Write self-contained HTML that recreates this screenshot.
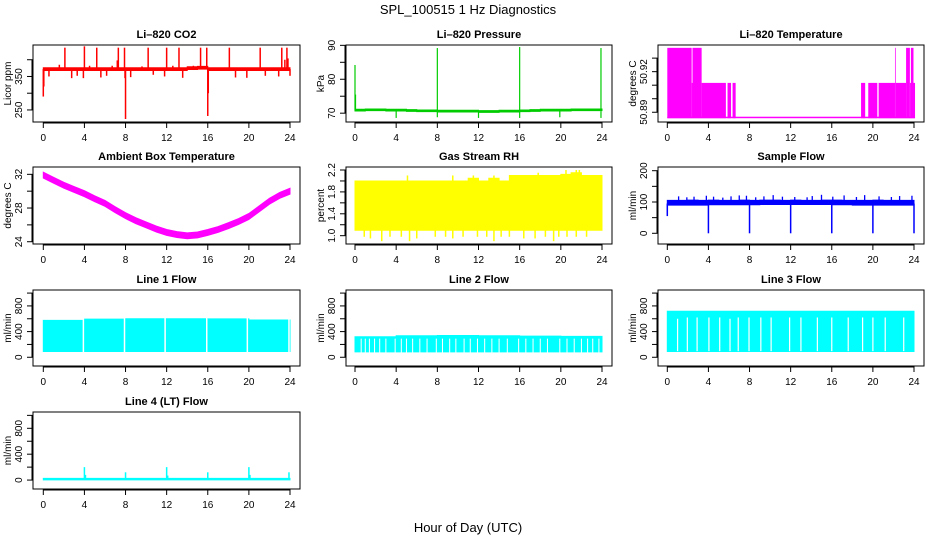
<!DOCTYPE html>
<html><head><meta charset="utf-8"><style>
html,body{margin:0;padding:0;background:#fff;}
svg{display:block;font-family:"Liberation Sans",Arial,sans-serif;}
</style></head><body>
<svg id="fig" width="936" height="540" viewBox="0 0 936 540" xmlns="http://www.w3.org/2000/svg">
<text x="468" y="14" text-anchor="middle" font-size="13">SPL_100515  1 Hz Diagnostics</text>
<text x="468" y="532" text-anchor="middle" font-size="13">Hour of Day (UTC)</text>
</svg>
<script>
// ---------- data ----------
const hours = [0,1,2,3,4,5,6,7,8,9,10,11,12,13,14,15,16,17,18,19,20,21,22,23,24];
const xTicks = [0,4,8,12,16,20,24];

const co2Upper = [376,376,376,376,376,376,376,376,376,376,376,376,376,376,379,380,376,376,376,376,376,376,376,376,376];
const co2Lower = [368,368,368,368,368,368,368,368,368,368,368,368,368,368,371,372,368,368,368,368,368,368,368,368,368];
const co2SpikeHours = [0,0.05,1.56,2.1,4.0,4.5,5.2,6.7,7.2,7.3,7.9,7.95,8.0,9.6,10.2,12.0,12.6,13.2,14.6,15.3,15.9,16.0,16.05,18.1,21.1,23.2,23.5,23.7,23.8,0.55,2.76,3.3,3.9,5.6,6.16,8.5,10.7,11.8,13.56,18.7,19.8,21.6,22.9,24.0];
const co2SpikeVals = [290,320,385,436,440,382,436,382,398,436,436,345,223,380,436,436,382,436,382,436,436,232,300,436,436,436,400,436,404,350,345,352,345,347,352,348,355,350,346,347,346,352,350,352];

const presBase = [70.9,71.0,71.0,70.9,70.9,70.8,70.7,70.7,70.6,70.6,70.6,70.6,70.5,70.5,70.6,70.6,70.7,70.8,70.9,70.9,70.9,71.0,71.0,71.0,71.1];
const presSpikeHours = [0,0.05,8.0,16.0,23.9];
const presSpikeVals = [84.2,75.5,89.2,89.5,89.2];
const presDipHours = [4,8,12,16,19.9,23.9];
const presDipVals = [68.6,68.8,68.6,68.6,68.8,68.6];

const tempSegStart = [0,2.37,2.45,3.34,5.86,6.35,18.85,19.55,20.56,22.15,22.22,23.23,23.6,23.7,23.95];
const tempSegEnd   = [2.37,2.45,3.34,5.7,6.2,6.65,19.25,20.43,22.15,22.22,23.23,23.6,23.7,23.95,24.1];
const tempSegLevel = [50.9376,50.9117,50.9376,50.9117,50.9117,50.9117,50.9117,50.9117,50.9117,50.9376,50.9117,50.9376,50.9117,50.9376,50.9117];
const tempBase = 50.8856;

const ambHours = [0,1,2,3,4,5,6,7,8,9,10,11,12,13,14,15,16,17,18,19,20,21,22,23,24];
const ambVals = [31.9,31.3,30.7,30.2,29.7,29.1,28.55,27.8,27.1,26.5,26.0,25.5,25.1,24.85,24.7,24.8,25.1,25.45,25.9,26.4,27.0,27.9,28.8,29.5,30.0];

const rhUpper = [2.0,2.0,2.0,2.0,2.0,2.0,2.0,2.0,2.0,2.0,2.0,2.05,2.0,2.05,2.0,2.1,2.1,2.1,2.1,2.1,2.12,2.15,2.1,2.1,2.1];
const rhLower = [1.1,1.1,1.1,1.1,1.1,1.1,1.1,1.1,1.1,1.1,1.1,1.1,1.1,1.1,1.1,1.1,1.1,1.1,1.1,1.1,1.1,1.1,1.1,1.1,1.3];
const rhDipHours = [0.9,1.5,2.6,3.4,4.5,5.3,6.0,7.8,8.8,9.5,10.5,11.9,12.8,13.5,14.2,15.0,16.4,17.5,18.5,19.3,19.8,20.6,21.5,22.5];
const rhDipVals = [0.98,0.95,0.9,0.98,0.98,0.9,0.95,0.98,0.98,0.95,0.98,0.98,0.98,0.9,0.98,0.98,0.95,0.95,0.98,0.9,0.98,0.98,0.98,0.98];
const rhSpikeHours = [5.1,9.5,11.5,13.5,17.8,20.5,21.5,21.8];
const rhSpikeVals = [2.1,2.1,2.1,2.1,2.15,2.2,2.2,2.2];

const sfUpper = [105,105,106,105,106,105,105,106,105,106,106,105,106,105,105,106,106,105,105,105,106,105,105,105,105];
const sfLower = [90,90,90,90,91,91,91,91,91,92,92,92,92,92,92,92,91,91,90,90,90,90,90,90,90];
const sfSpikeHours = [1.1,1.9,2.6,3.8,4.5,5.4,6.2,7.0,7.7,8.6,9.4,10.3,11.2,12.4,13.6,14.1,15.0,16.1,17.2,18.4,19.2,20.6,21.8,22.6,23.8];
const sfSpikeVals = [118,115,117,120,117,114,118,121,120,115,118,122,117,116,115,119,123,117,121,116,122,118,116,119,120];
const sfDropHours = [0,4,8,12,16,20,24];
const sfDropVals = [55,0,0,0,0,0,0];

const l1Upper = [575,575,575,575,595,595,595,595,600,600,600,600,600,600,600,600,598,598,598,598,580,580,580,580,480];
const l1Lower = [90,90,90,90,90,90,90,90,90,90,90,90,90,90,90,90,90,90,90,90,90,90,90,90,90];
const l1GapHours = [3.9,7.9,11.85,15.9,19.85,23.9];

const l2Upper = [320,320,320,320,335,335,335,335,340,340,340,340,335,335,335,335,330,330,330,330,325,325,325,325,260];
const l2Lower = [85,85,85,85,85,85,85,85,85,85,85,85,85,85,85,85,85,85,85,85,85,85,85,85,85];
const l2GapHours = [0.6,1.0,1.4,1.9,2.4,3.0,3.9,4.5,5.0,5.6,6.3,7.0,7.9,8.5,9.2,9.8,10.6,11.2,11.9,12.6,13.3,14.0,14.8,15.9,16.6,17.3,18.0,18.7,19.9,20.6,21.3,22.0,22.6,23.1,23.7];

const l3Upper = [716,716,716,716,716,716,716,716,716,716,716,716,716,716,716,716,716,716,716,716,716,716,716,716,620];
const l3Lower = [90,90,90,90,90,90,90,90,90,90,90,90,90,90,90,90,90,90,90,90,90,90,90,90,90];
const l3GapHours = [1.0,1.95,2.9,4.05,5.1,6.1,6.9,7.95,9.1,10.1,11.9,13.0,14.6,16.0,17.6,19.0,20.0,21.2,23.0];
const l3GapTops = [600,620,620,620,620,600,620,620,620,620,620,620,620,620,620,620,620,620,620];

const l4Base = 15;
const l4SpikeHours = [4.0,4.1,8.0,12.0,12.1,16.0,20.0,20.1,23.9];
const l4SpikeVals = [200,80,120,200,70,120,200,80,120];

// ---------- layout ----------
const svg = document.getElementById('fig');
const NS = 'http://www.w3.org/2000/svg';
const colBoxL = [33,346,658], colBoxR = [300,612,924];
const colX0 = [43.3,355,667.3], colX24 = [290,602,914];
const rowTop = [45,167,290,412], rowBot = [122,244,366,489];

function mk(tag, attrs, parent){
  const e = document.createElementNS(NS, tag);
  for (const k in attrs) e.setAttribute(k, attrs[k]);
  parent.appendChild(e);
  return e;
}

function panel(name, title, col, row, ymin, ymax, yTicks, yLabels, yTitle){
  const g = mk('g', {}, svg);
  
  
  const L = colBoxL[col], R = colBoxR[col], T = rowTop[row], B = rowBot[row];
  const p = {g, L, R, T, B};
  p.x = h => colX0[col] + (h/24)*(colX24[col]-colX0[col]);
  p.y = v => B - (v - ymin)/(ymax - ymin)*(B - T);
  const t = mk('text', {x:(L+R)/2, y:T-7, 'text-anchor':'middle', 'font-size':11, 'font-weight':'bold'}, g);
  t.textContent = title;
  
  
  // x axis
  const xa = mk('g', {}, g);
  
  
  mk('line', {x1:p.x(0), x2:p.x(24), y1:B+1, y2:B+1, stroke:'#000'}, xa);
  xTicks.forEach(h => {
    mk('line', {x1:p.x(h), x2:p.x(h), y1:B, y2:B+6, stroke:'#000'}, xa);
    const tl = mk('text', {x:p.x(h), y:B+19, 'text-anchor':'middle', 'font-size':10}, xa);
    tl.textContent = h;
    
    
  });
  // y axis
  const ya = mk('g', {}, g);
  
  
  mk('line', {x1:L-1, x2:L-1, y1:p.y(yTicks[0]), y2:p.y(yTicks[yTicks.length-1]), stroke:'#000'}, ya);
  yTicks.forEach((v,i) => {
    const yy = p.y(v);
    mk('line', {x1:L-6, x2:L, y1:yy, y2:yy, stroke:'#000'}, ya);
    if (yLabels[i] !== '') {
      const tl = mk('text', {x:0, y:0, 'text-anchor':'middle', 'font-size':10, transform:`translate(${L-11},${yy}) rotate(-90)`}, ya);
      tl.textContent = yLabels[i];
      
      
    }
  });
  const yt = mk('text', {x:0, y:0, 'text-anchor':'middle', 'font-size':10, transform:`translate(${L-22},${(T+B)/2}) rotate(-90)`}, g);
  yt.textContent = yTitle;
  
  
  const clip = 'clip' + col + row;
  const cp = mk('clipPath', {id:clip}, g);
  mk('rect', {x:L, y:T, width:R-L, height:B-T}, cp);
  p.d = mk('g', {'clip-path':`url(#${clip})`}, g);
  
  
  p.finish = () => {
    const bx = mk('rect', {x:L, y:T, width:R-L, height:B-T, fill:'none', stroke:'#000'}, g);
    
    
  };
  return p;
}

function band(p, hs, up, lo, color, step){
  let pts = [];
  if (step) {
    for (let i=0;i<hs.length-1;i++){ pts.push([p.x(hs[i]),p.y(up[i])]); pts.push([p.x(hs[i+1]),p.y(up[i])]); }
    for (let i=hs.length-2;i>=0;i--){ pts.push([p.x(hs[i+1]),p.y(lo[i])]); pts.push([p.x(hs[i]),p.y(lo[i])]); }
  } else {
    for (let i=0;i<hs.length;i++) pts.push([p.x(hs[i]),p.y(up[i])]);
    for (let i=hs.length-1;i>=0;i--) pts.push([p.x(hs[i]),p.y(lo[i])]);
  }
  const e = mk('polygon', {points:pts.map(a=>a.join(',')).join(' '), fill:color, stroke:color, 'stroke-width':1}, p.d);
  
  
}
function vlines(p, hs, from, to, color, w){
  hs.forEach((h,i) => {
    const a = Array.isArray(from) ? from[i] : from;
    const b = Array.isArray(to) ? to[i] : to;
    const e = mk('line', {x1:p.x(h), x2:p.x(h), y1:p.y(a), y2:p.y(b), stroke:color, 'stroke-width':w||1.3}, p.d);
    
    
  });
}
const RED='#ff0000', GRN='#00cc00', MAG='#ff00ff', YEL='#ffff00', BLU='#0000ff', CYN='#00ffff';

// CO2
let p = panel('co2-panel','Li\u2013820 CO2',0,0,214,444,[250,300,350,400],['250','','350',''],'Licor ppm');
band(p, hours, co2Upper, co2Lower, RED, true);
vlines(p, co2SpikeHours, 372, co2SpikeVals, RED, 1.5);
p.finish();

// Pressure
p = panel('pressure-panel','Li\u2013820 Pressure',1,0,67.4,90.1,[70,75,80,85,90],['70','','80','','90'],'kPa');
band(p, hours, presBase.map(v=>v+0.25), presBase.map(v=>v-0.25), GRN, true);
vlines(p, presSpikeHours, 70.8, presSpikeVals, GRN, 1.2);
vlines(p, presDipHours, 70.6, presDipVals, GRN, 1.2);
p.finish();

// Li-820 Temperature
p = panel('li820-temperature-panel','Li\u2013820 Temperature',2,0,50.8828,50.9397,[50.89,50.90,50.91,50.92,50.93],['50.89','','','50.92',''],'degrees C');
(function(){
  const e = mk('rect', {x:p.x(0), y:p.y(tempBase)-1.5, width:p.x(24.1)-p.x(0), height:1.5, fill:MAG}, p.d);
  
  
  tempSegStart.forEach((s,i) => {
    const r = mk('rect', {x:p.x(s), y:p.y(tempSegLevel[i]), width:p.x(tempSegEnd[i])-p.x(s), height:p.y(tempBase)-p.y(tempSegLevel[i]), fill:MAG}, p.d);
    
    
  });
})();
p.finish();

// Ambient
p = panel('ambient-temperature-panel','Ambient Box Temperature',0,1,23.73,32.87,[24,26,28,30,32],['24','','28','','32'],'degrees C');
band(p, ambHours, ambVals.map(v=>v+0.35), ambVals.map(v=>v-0.35), MAG, false);
p.finish();

// RH
p = panel('gas-stream-rh-panel','Gas Stream RH',1,1,0.848,2.255,[1.0,1.2,1.4,1.6,1.8,2.0,2.2],['1.0','','1.4','','1.8','','2.2'],'percent');
band(p, hours, rhUpper, rhLower, YEL, true);
vlines(p, rhDipHours, 1.2, rhDipVals, YEL, 1.5);
vlines(p, rhSpikeHours, 1.9, rhSpikeVals, YEL, 1.5);
p.finish();

// Sample flow
p = panel('sample-flow-panel','Sample Flow',2,1,-34.2,211.8,[0,50,100,150,200],['0','','100','','200'],'ml/min');
band(p, hours, sfUpper, sfLower, BLU, true);
vlines(p, sfSpikeHours, 100, sfSpikeVals, BLU, 1.3);
vlines(p, sfDropHours, 95, sfDropVals, BLU, 1.5);
p.finish();

// Line flows
const flowTicks = [0,200,400,600,800,1000], flowLabels = ['0','','400','','800',''];
p = panel('line1-flow-panel','Line 1 Flow',0,2,-136,1048,flowTicks,flowLabels,'ml/min');
band(p, hours, l1Upper, l1Lower, CYN, true);
vlines(p, l1GapHours, 60, 640, '#fff', 1.5);
p.finish();

p = panel('line2-flow-panel','Line 2 Flow',1,2,-136,1048,flowTicks,flowLabels,'ml/min');
band(p, hours, l2Upper, l2Lower, CYN, true);
vlines(p, l2GapHours, 60, 290, '#fff', 1);
p.finish();

p = panel('line3-flow-panel','Line 3 Flow',2,2,-136,1048,flowTicks,flowLabels,'ml/min');
band(p, hours, l3Upper, l3Lower, CYN, true);
vlines(p, l3GapHours, 95, l3GapTops, '#fff', 1.2);
p.finish();

p = panel('line4-flow-panel','Line 4 (LT) Flow',0,3,-138,1052,flowTicks,flowLabels,'ml/min');
band(p, [0,24], [l4Base+12,l4Base+12], [l4Base-12,l4Base-12], CYN, false);
vlines(p, l4SpikeHours, l4Base, l4SpikeVals, CYN, 1.5);
p.finish();
</script>
</body></html>
